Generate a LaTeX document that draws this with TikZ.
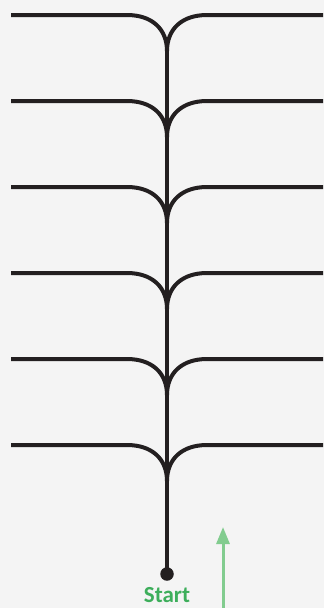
\documentclass[tikz,border=0pt]{standalone}
\usepackage{fontspec}
\setmainfont{Carlito}
\usepackage{xcolor}
\usetikzlibrary{arrows.meta, positioning}

\definecolor{bg}{HTML}{F4F4F4}
\definecolor{ink}{HTML}{231F20}
\definecolor{startgreen}{HTML}{3DAE5B}
\definecolor{arrowgreen}{HTML}{82CC8F}

\begin{document}
\begin{tikzpicture}[
    x=1pt, y=-1pt,
    branch/.style={line width=4pt,ink},
    up/.style={line width=3pt,arrowgreen,-{Triangle[width=13pt,length=17pt]}},
    dot/.style={circle,fill=ink,inner sep=0pt,minimum size=13.5pt}
]

% Background
\fill[bg] (0,0) rectangle (324,608);
\useasboundingbox (0,0) rectangle (324,608);
\clip (0,0) rectangle (324,608);

% Forks
\foreach \i in {0,...,5} {
  \pgfmathsetmacro{\y}{15+86*\i}
  \coordinate (l\i) at (11,\y);
  \coordinate (r\i) at (323,\y);
  \coordinate (j\i) at (167,\y+36);
  \draw[branch] (l\i) -- (127,\y) .. controls (152,\y) and (167,\y+14) .. (j\i);
  \draw[branch] (r\i) -- (207,\y) .. controls (182,\y) and (167,\y+14) .. (j\i);
}

% Trunk
\node[dot] (start) at (167,574) {};
\draw[branch] (j0) -- (start.center);

% Label and arrow
\node[anchor=base, inner sep=0pt, text=startgreen, font=\bfseries\fontsize{23}{23}\selectfont] (lbl) at (167,602) {Start};
\coordinate (tail) at (223,610);
\coordinate (tip) at (223,527);
\draw[up] (tail) -- (tip);

\end{tikzpicture}
\end{document}
